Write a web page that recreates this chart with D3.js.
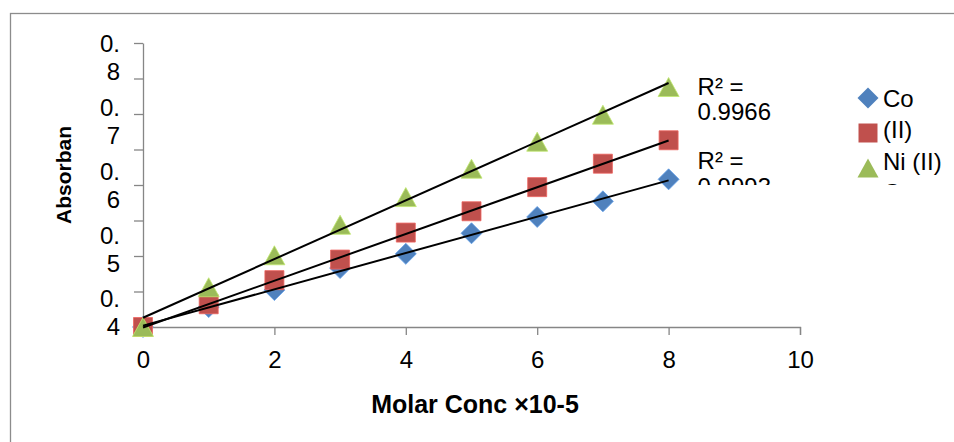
<!DOCTYPE html>
<html>
<head>
<meta charset="utf-8">
<script src="https://cdn.jsdelivr.net/npm/d3@7"></script>
<style>
  html, body { margin: 0; padding: 0; background: #fff; }
  svg { display: block; font-family: "Liberation Sans", Arial, sans-serif; }
</style>
</head>
<body>
<svg id="chart" width="954" height="442"></svg>
<script>
// Absorbance against molar concentration for three metal complexes
const concentrations = [0, 1, 2, 3, 4, 5, 6, 7, 8];
const coValues = [0.400, 0.428, 0.452, 0.483, 0.503, 0.532, 0.555, 0.577, 0.608];
const niValues = [0.400, 0.432, 0.466, 0.495, 0.533, 0.563, 0.597, 0.630, 0.663];
const cuValues = [0.400, 0.456, 0.501, 0.544, 0.583, 0.623, 0.661, 0.699, 0.738];
const seriesNames = ["Co (II)", "Ni (II)", "Cu (II)"];
const seriesColors = ["#4F81BD", "#C0504D", "#9BBB59"];
const seriesShapes = ["diamond", "square", "triangle"];
const xTickValues = [0, 2, 4, 6, 8, 10];
const yTickValues = [0.4, 0.45, 0.5, 0.55, 0.6, 0.65, 0.7, 0.75, 0.8];
const yLabelValues = [0.4, 0.5, 0.6, 0.7, 0.8];
const yLabelTexts = ["0.4", "0.5", "0.6", "0.7", "0.8"];
const rSquaredTexts = ["0.9993", "0.9966"];   // Ni (II), Cu (II)
const xTitle = "Molar Conc \u00d710-5";
const yTitle = "Absorban";

const seriesValues = [coValues, niValues, cuValues];

const svg = d3.select("#chart");

// outer chart frame (runs past the right and bottom edges)
svg.append("rect")
  .attr("x", 10.5).attr("y", 13.5)
  .attr("width", 1000).attr("height", 500)
  .attr("fill", "none").attr("stroke", "#8c8c8c").attr("stroke-width", 1.3);

const x = d3.scaleLinear().domain([0, 10]).range([143, 800]);
const y = d3.scaleLinear().domain([0.4, 0.8]).range([327, 43]);

const axisColor = "#868686";

// x axis
const gx = svg.append("g").attr("transform", `translate(0,${y(0.4)})`)
  .call(d3.axisBottom(x).tickValues(xTickValues).tickSize(8).tickPadding(16).tickFormat(d3.format("d")));
gx.select(".domain").attr("stroke", axisColor).attr("stroke-width", 1.3);
gx.selectAll(".tick line").attr("stroke", axisColor).attr("stroke-width", 1.3);
gx.selectAll(".tick text")
  .attr("fill", "#000").attr("font-size", 24)
  .attr("font-family", "Liberation Sans, Arial, sans-serif");

// y axis (tick marks only, labels are wrapped below)
const gy = svg.append("g").attr("transform", `translate(${x(0)},0)`)
  .call(d3.axisLeft(y).tickValues(yTickValues).tickSize(9).tickSizeOuter(0).tickFormat(""));
gy.select(".domain").attr("stroke", axisColor).attr("stroke-width", 1.3);
gy.selectAll(".tick line").attr("stroke", axisColor).attr("stroke-width", 1.3);

// wrapped y labels ("0." over the digit), packed slightly toward the middle
const yMid = y(0.6);
const labelG = svg.append("g").attr("font-size", 24).attr("fill", "#000").attr("text-anchor", "end");
yLabelValues.forEach((v, i) => {
  const cy = yMid + (y(v) - yMid) * 0.9;
  const txt = yLabelTexts[i];
  const lines = [txt.slice(0, 2), txt.slice(2)];
  lines.forEach((ln, j) => {
    labelG.append("text")
      .attr("x", 120)
      .attr("y", cy + (j - 0.5) * 28)
      .attr("dy", "0.36em")
      .text(ln);
  });
});

// axis titles
svg.append("text")
  .attr("x", 475).attr("y", 413)
  .attr("text-anchor", "middle")
  .attr("font-size", 25).attr("font-weight", "bold")
  .text(xTitle);

svg.append("text")
  .attr("transform", "translate(71,175) rotate(-90)")
  .attr("text-anchor", "middle")
  .attr("font-size", 21).attr("font-weight", "bold")
  .text(yTitle);

// marker paths centred on their bounding boxes
function markerPath(shape) {
  if (shape === "diamond") {
    const r = 10.5;
    return `M0,${-r}L${r},0L0,${r}L${-r},0Z`;
  }
  if (shape === "square") {
    const h = 9.5;
    return `M${-h},${-h}H${h}V${h}H${-h}Z`;
  }
  const w = 10.5, h = 9.5;
  return `M0,${-h}L${w},${h}L${-w},${h}Z`;
}

// markers: Co first, then Ni, then Cu on top
seriesValues.forEach((vals, si) => {
  svg.append("g").selectAll("path")
    .data(concentrations.map((c, i) => [c, vals[i]]))
    .join("path")
    .attr("transform", d => `translate(${x(d[0])},${y(d[1])})`)
    .attr("d", markerPath(seriesShapes[si]))
    .attr("fill", seriesColors[si])
    .attr("stroke", d3.color(seriesColors[si]).brighter(0.6))
    .attr("stroke-width", 0.8);
});

// least-squares trendlines
function fit(xs, ys) {
  const mx = d3.mean(xs), my = d3.mean(ys);
  const sxy = d3.sum(xs, (v, i) => (v - mx) * (ys[i] - my));
  const sxx = d3.sum(xs, v => (v - mx) * (v - mx));
  const slope = sxy / sxx;
  return { slope, intercept: my - slope * mx };
}
const xEnds = [d3.min(concentrations), d3.max(concentrations)];
const fits = seriesValues.map(vals => fit(concentrations, vals));
const line = d3.line().x(d => x(d[0])).y(d => y(d[1]));
fits.forEach(f => {
  svg.append("path")
    .attr("d", line(xEnds.map(c => [c, f.intercept + f.slope * c])))
    .attr("fill", "none").attr("stroke", "#000").attr("stroke-width", 2);
});

// labels on the right are cut off below this line
svg.append("clipPath").attr("id", "rightClip")
  .append("rect").attr("x", 680).attr("y", 0).attr("width", 274).attr("height", 185);
const rightG = svg.append("g").attr("clip-path", "url(#rightClip)").attr("font-size", 24).attr("fill", "#000");

// R² labels beside the Ni and Cu trendlines
const rOffsets = [20, 3];
[1, 2].forEach((si, k) => {
  const f = fits[si];
  const endY = y(f.intercept + f.slope * xEnds[1]);
  const lx = x(xEnds[1]) + 29;
  const ly = endY + rOffsets[k];
  rightG.append("text").attr("x", lx).attr("y", ly).attr("dy", "0.36em").text("R\u00b2 =");
  rightG.append("text").attr("x", lx).attr("y", ly + 25.5).attr("dy", "0.36em").text(rSquaredTexts[k]);
});

// legend: markers at fixed slots, names wrapped to a narrow column
const legX = 868, legTop = 98, legStep = 35, legTextX = 883, legWrap = 66, legLine = 31.5;
seriesNames.forEach((name, si) => {
  rightG.append("path")
    .attr("transform", `translate(${legX},${legTop + si * legStep})`)
    .attr("d", markerPath(seriesShapes[si]))
    .attr("fill", seriesColors[si]);
});
let lineIdx = 0;
seriesNames.forEach(name => {
  const words = name.split(" ");
  let current = "";
  const lines = [];
  words.forEach(w => {
    const trial = current ? current + " " + w : w;
    const probe = rightG.append("text").text(trial);
    const len = probe.node().getComputedTextLength();
    probe.remove();
    if (len > legWrap && current) { lines.push(current); current = w; }
    else current = trial;
  });
  lines.push(current);
  lines.forEach(ln => {
    rightG.append("text")
      .attr("x", legTextX).attr("y", legTop + lineIdx * legLine)
      .attr("dy", "0.36em").text(ln);
    lineIdx++;
  });
});
</script>
</body>
</html>
